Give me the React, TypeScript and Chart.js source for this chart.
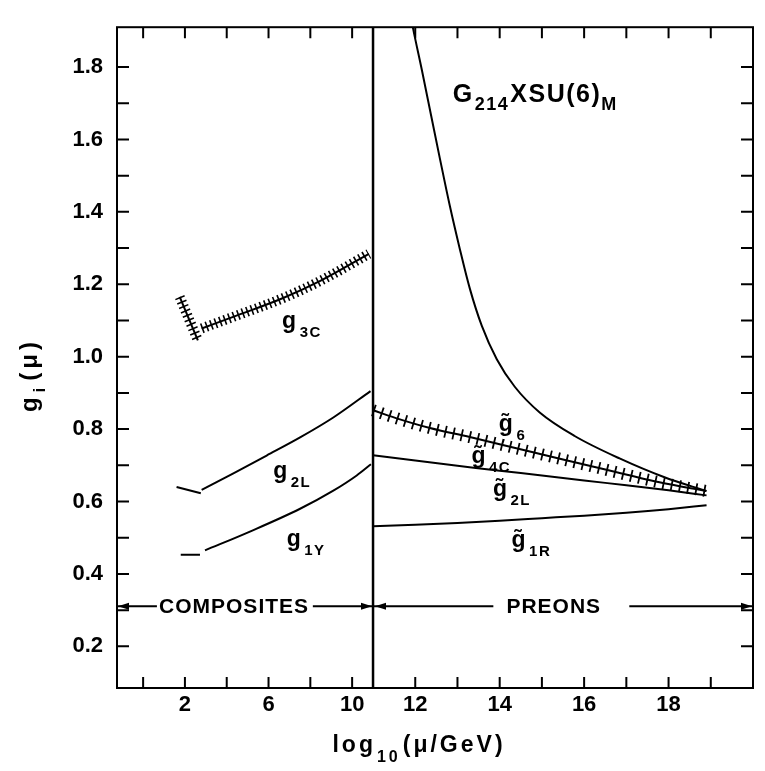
import React, { useEffect, useRef } from 'react';
import { Chart, registerables, LinearScale } from 'chart.js';

Chart.register(...registerables);

// ---------- axes (data units) ----------
const BREAK_X = 11;            // composites | preons threshold, log10(mu/GeV)
const RIGHT_STRETCH = 2.02;    // the preon side of the x axis is drawn ~2x wider per unit
const X_MIN = -1.25;
const X_MAX = 20;
const Y_MIN = 0.085;
const Y_MAX = 1.91;

const X_TICKS = [0, 2, 4, 6, 8, 10, 12, 13, 14, 15, 16, 17, 18, 19];
const X_TICK_LABELS = [2, 6, 10, 12, 14, 16, 18];
const Y_TICKS = [0.2, 0.3, 0.4, 0.5, 0.6, 0.7, 0.8, 0.9, 1.0, 1.1, 1.2, 1.3, 1.4, 1.5, 1.6, 1.7, 1.8];
const Y_TICK_LABELS = [0.2, 0.4, 0.6, 0.8, 1.0, 1.2, 1.4, 1.6, 1.8];

// ---------- composites side ----------
const g3cStepX = [1.75, 2.62];
const g3cStepY = [1.165, 1.045];
const g3cX = [2.8, 4.5, 6.7, 8.5, 10.8];
const g3cY = [1.078, 1.114, 1.162, 1.21, 1.284];

const g2lStubX = [1.6, 2.76];
const g2lStubY = [0.64, 0.623];
const g2lX = [2.8, 4.32, 5.91, 7.51, 9.1, 10.88];
const g2lY = [0.632, 0.678, 0.727, 0.777, 0.832, 0.905];

const g1yStubX = [1.8, 2.72];
const g1yStubY = [0.453, 0.453];
const g1yX = [2.96, 5.11, 7.51, 9.1, 10.22, 10.9];
const g1yY = [0.465, 0.517, 0.58, 0.63, 0.672, 0.703];

// ---------- preons side ----------
const g6X = [11.88, 11.946, 12.158, 12.371, 12.584, 12.82, 13.057, 13.293, 13.577, 13.931, 14.357, 14.948, 15.775, 16.839, 17.903, 18.896];
const g6Y = [1.95, 1.908, 1.791, 1.669, 1.547, 1.416, 1.297, 1.188, 1.085, 0.993, 0.917, 0.846, 0.781, 0.719, 0.667, 0.629];

const g4cX = [11, 11.638, 12.348, 13.293, 14.641, 16.201, 17.785, 18.896];
const g4cY = [0.852, 0.827, 0.803, 0.778, 0.74, 0.697, 0.653, 0.629];

const g2lTX = [11, 12, 13, 14, 15, 16, 17, 18, 18.9];
const g2lTY = [0.728, 0.713, 0.699, 0.685, 0.672, 0.658, 0.645, 0.631, 0.617];

const g1rX = [11, 12, 13, 14, 15, 16, 17, 18, 18.9];
const g1rY = [0.532, 0.536, 0.541, 0.547, 0.554, 0.561, 0.569, 0.579, 0.59];

// ---------- text annotations (anchored in data units) ----------
const CURVE_LABELS = [
  { main: 'g', sub: '3C', x: 6.65, y: 1.08 },
  { main: 'g', sub: '2L', x: 6.22, y: 0.664 },
  { main: 'g', sub: '1Y', x: 6.87, y: 0.478 },
  { main: 'g\u0303', sub: '6', x: 13.98, y: 0.796 },
  { main: 'g\u0303', sub: '4C', x: 13.33, y: 0.706 },
  { main: 'g\u0303', sub: '2L', x: 13.84, y: 0.615 },
  { main: 'g\u0303', sub: '1R', x: 14.28, y: 0.474 },
];
const TITLE_X = 12.89;
const TITLE_Y = 1.704;
const REGION_Y = 0.311;
const COMPOSITES_X = 4.35;
const PREONS_X = 15.28;
const COMPOSITES_SEGS = [[X_MIN, 0.66], [8.12, BREAK_X]];
const PREONS_SEGS = [[BREAK_X, 13.85], [17.07, X_MAX]];

const FONT = "'Liberation Sans', 'DejaVu Sans', Arial, sans-serif";

// ---------- broken x scale ----------
const toU = (v: number) => (v <= BREAK_X ? v : BREAK_X + (v - BREAK_X) * RIGHT_STRETCH);
const fromU = (u: number) => (u <= BREAK_X ? u : BREAK_X + (u - BREAK_X) / RIGHT_STRETCH);

class BrokenLinearScale extends LinearScale {
  static id = 'brokenLinear';
  getPixelForValue(value: any) {
    if (value === null || value === undefined || isNaN(value)) return NaN;
    const u0 = toU(this.min);
    const u1 = toU(this.max);
    return this.getPixelForDecimal((toU(value) - u0) / (u1 - u0));
  }
  getValueForPixel(pixel: number) {
    const u0 = toU(this.min);
    const u1 = toU(this.max);
    return fromU(u0 + this.getDecimalForPixel(pixel) * (u1 - u0));
  }
}
Chart.register(BrokenLinearScale as any);

const pts = (xs: number[], ys: number[]) => xs.map((x, i) => ({ x, y: ys[i] }));

function line(xs: number[], ys: number[], extra: any = {}) {
  return {
    data: pts(xs, ys),
    borderColor: '#000',
    borderWidth: 2,
    pointRadius: 0,
    fill: false,
    ...extra,
  };
}

type Part = { t: string; sub?: boolean; gap?: number };

function partsWidth(ctx: CanvasRenderingContext2D, parts: Part[], mainFont: string, subFont: string, spacing: number) {
  let w = 0;
  for (const p of parts) {
    ctx.font = p.sub ? subFont : mainFont;
    (ctx as any).letterSpacing = spacing + 'px';
    w += (p.gap || 0) + ctx.measureText(p.t).width;
  }
  return w;
}

function drawParts(ctx: CanvasRenderingContext2D, parts: Part[], x: number, y: number, mainFont: string, subFont: string, drop: number, spacing: number) {
  let cx = x;
  for (const p of parts) {
    ctx.font = p.sub ? subFont : mainFont;
    (ctx as any).letterSpacing = spacing + 'px';
    cx += p.gap || 0;
    ctx.fillText(p.t, cx, p.sub ? y + drop : y);
    cx += ctx.measureText(p.t).width;
  }
  return cx;
}

function arrowHead(ctx: CanvasRenderingContext2D, tipX: number, y: number, dir: number) {
  ctx.beginPath();
  ctx.moveTo(tipX, y);
  ctx.lineTo(tipX - dir * 11, y - 3.5);
  ctx.lineTo(tipX - dir * 11, y + 3.5);
  ctx.closePath();
  ctx.fill();
}

const decorPlugin = {
  id: 'decor',
  afterDatasetsDraw(chart: any) {
    const { ctx, chartArea: a, scales } = chart;
    const xs = scales.x;
    const ys = scales.y;
    ctx.save();
    ctx.strokeStyle = '#000';
    ctx.fillStyle = '#000';
    ctx.lineCap = 'butt';

    // frame
    ctx.lineWidth = 2;
    ctx.strokeRect(a.left, a.top, a.right - a.left, a.bottom - a.top);

    // inward ticks on all four sides
    ctx.beginPath();
    for (const v of X_TICKS) {
      const px = xs.getPixelForValue(v);
      ctx.moveTo(px, a.bottom);
      ctx.lineTo(px, a.bottom - 11);
      ctx.moveTo(px, a.top);
      ctx.lineTo(px, a.top + 11);
    }
    for (const v of Y_TICKS) {
      const py = ys.getPixelForValue(v);
      ctx.moveTo(a.left, py);
      ctx.lineTo(a.left + 12, py);
      ctx.moveTo(a.right, py);
      ctx.lineTo(a.right - 12, py);
    }
    ctx.stroke();

    ctx.textBaseline = 'alphabetic';
    ctx.textAlign = 'left';

    // curve labels
    const mainF = `bold 23px ${FONT}`;
    const subF = `bold 15px ${FONT}`;
    for (const l of CURVE_LABELS) {
      const px = xs.getPixelForValue(l.x);
      const py = ys.getPixelForValue(l.y);
      drawParts(ctx, [{ t: l.main }, { t: l.sub, sub: true, gap: 2 }], px, py, mainF, subF, 9, 1.5);
    }

    // model title
    drawParts(
      ctx,
      [{ t: 'G' }, { t: '214', sub: true, gap: 1 }, { t: 'XSU(6)', gap: 1 }, { t: 'M', sub: true }],
      xs.getPixelForValue(TITLE_X),
      ys.getPixelForValue(TITLE_Y),
      `bold 25px ${FONT}`,
      `bold 18px ${FONT}`,
      8,
      1.5
    );

    // composites / preons arrows
    const ry = ys.getPixelForValue(REGION_Y);
    ctx.lineWidth = 2;
    ctx.beginPath();
    for (const s of [...COMPOSITES_SEGS, ...PREONS_SEGS]) {
      ctx.moveTo(xs.getPixelForValue(s[0]), ry);
      ctx.lineTo(xs.getPixelForValue(s[1]), ry);
    }
    ctx.stroke();
    arrowHead(ctx, xs.getPixelForValue(X_MIN) + 1, ry, -1);
    arrowHead(ctx, xs.getPixelForValue(BREAK_X) - 1, ry, 1);
    arrowHead(ctx, xs.getPixelForValue(BREAK_X) + 2, ry, -1);
    arrowHead(ctx, xs.getPixelForValue(X_MAX) - 1, ry, 1);
    ctx.font = `bold 21px ${FONT}`;
    (ctx as any).letterSpacing = '1px';
    ctx.textAlign = 'center';
    ctx.textBaseline = 'middle';
    ctx.fillText('COMPOSITES', xs.getPixelForValue(COMPOSITES_X), ry + 1);
    ctx.fillText('PREONS', xs.getPixelForValue(PREONS_X), ry + 1);
    ctx.textAlign = 'left';
    ctx.textBaseline = 'alphabetic';

    // x axis title
    const xParts: Part[] = [{ t: 'log' }, { t: '10', sub: true, gap: 1 }, { t: '(\u03bc/GeV)', gap: 2 }];
    const xMain = `bold 23px ${FONT}`;
    const xSub = `bold 16px ${FONT}`;
    const xw = partsWidth(ctx, xParts, xMain, xSub, 3);
    drawParts(ctx, xParts, 419 - xw / 2, 752, xMain, xSub, 10, 3);

    // y axis title (rotated)
    const yParts: Part[] = [{ t: 'g' }, { t: 'i', sub: true, gap: 1 }, { t: '(\u03bc)', gap: 3 }];
    const yMain = `bold 24px ${FONT}`;
    const ySub = `bold 16px ${FONT}`;
    const yw = partsWidth(ctx, yParts, yMain, ySub, 4);
    ctx.translate(37, 375);
    ctx.rotate(-Math.PI / 2);
    drawParts(ctx, yParts, -yw / 2, 0, yMain, ySub, 8, 4);

    ctx.restore();
  },
};

export default function App() {
  const ref = useRef<HTMLCanvasElement | null>(null);

  useEffect(() => {
    if (!ref.current) return;
    const tickFont = { family: FONT, size: 22, weight: 'bold' as const };
    const smooth = { cubicInterpolationMode: 'monotone' };
    const hatchA = { borderWidth: 10, borderDash: [1.6, 3.2], borderCapStyle: 'butt' };
    const hatchB = { borderWidth: 12, borderDash: [1.8, 6.5], borderCapStyle: 'butt' };
    const chart = new Chart(ref.current, {
      type: 'line',
      data: {
        datasets: [
          // composites / preons divider
          line([BREAK_X, BREAK_X], [Y_MIN, Y_MAX], { borderWidth: 2.5 }),
          // g3C (hatched)
          line(g3cStepX, g3cStepY),
          line(g3cStepX, g3cStepY, hatchA),
          line(g3cX, g3cY, smooth),
          line(g3cX, g3cY, { ...smooth, ...hatchA }),
          // g2L
          line(g2lStubX, g2lStubY),
          line(g2lX, g2lY, smooth),
          // g1Y
          line(g1yStubX, g1yStubY),
          line(g1yX, g1yY, smooth),
          // g~6
          line(g6X, g6Y, smooth),
          // g~4C (hatched)
          line(g4cX, g4cY, smooth),
          line(g4cX, g4cY, { ...smooth, ...hatchB }),
          // g~2L
          line(g2lTX, g2lTY, smooth),
          // g~1R
          line(g1rX, g1rY, smooth),
        ],
      },
      options: {
        responsive: false,
        animation: false,
        layout: { padding: { top: 17, right: 12, left: 0, bottom: 0 } },
        plugins: { legend: { display: false }, tooltip: { enabled: false } },
        elements: { point: { radius: 0 } },
        scales: {
          x: {
            type: 'brokenLinear' as any,
            min: X_MIN,
            max: X_MAX,
            grid: { display: false, drawTicks: false },
            border: { display: false },
            afterBuildTicks: (s: any) => {
              s.ticks = X_TICKS.map((v) => ({ value: v }));
            },
            afterFit: (s: any) => {
              s.height = 83;
            },
            ticks: {
              autoSkip: false,
              maxRotation: 0,
              padding: 4,
              color: '#000',
              font: tickFont,
              callback: (v: any) => (X_TICK_LABELS.includes(Number(v)) ? String(v) : ''),
            },
          } as any,
          y: {
            type: 'linear',
            min: Y_MIN,
            max: Y_MAX,
            grid: { display: false, drawTicks: false },
            border: { display: false },
            afterBuildTicks: (s: any) => {
              s.ticks = Y_TICKS.map((v) => ({ value: v }));
            },
            afterFit: (s: any) => {
              s.width = 117;
            },
            ticks: {
              autoSkip: false,
              padding: 14,
              color: '#000',
              font: tickFont,
              callback: (v: any) =>
                Y_TICK_LABELS.some((l) => Math.abs(l - Number(v)) < 1e-6) ? Number(v).toFixed(1) : '',
            },
          },
        },
      },
      plugins: [decorPlugin],
    });
    return () => chart.destroy();
  }, []);

  return (
    <div style={{ position: 'fixed', left: 0, top: 0, width: 765, height: 771, background: '#fff' }}>
      <canvas ref={ref} width={765} height={771} style={{ width: 765, height: 771, display: 'block' }} />
    </div>
  );
}
